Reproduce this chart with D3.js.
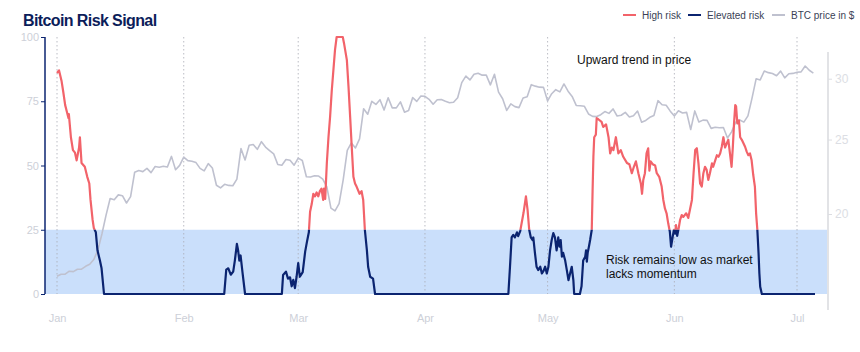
<!DOCTYPE html>
<html><head><meta charset="utf-8">
<script src="https://cdn.jsdelivr.net/npm/d3@7"></script>
<style>
body{margin:0;background:#fff;}
svg text{font-family:"Liberation Sans", Arial, sans-serif;}
</style>
</head><body>
<svg id="chart" width="860" height="352"></svg>
<script>
// ---------- DATA ----------
const startDate = "2023-01-01";
// BTC daily close (thousand $), Jan 1 .. Jul 5
const priceValues = [
16.6,16.7,16.7,16.85,16.83,16.95,16.95,17.1,17.2,17.45,17.95,18.85,19.93,20.95,20.87,21.18,21.13,20.67,21.07,22.67,22.78,22.71,22.93,22.64,23.06,23.01,23.08,23.03,23.77,22.84,23.14,
23.72,23.47,23.43,23.33,22.93,22.76,23.26,22.96,21.8,21.63,21.86,21.79,21.77,22.2,24.33,23.52,24.57,24.63,24.28,24.84,24.44,24.19,23.95,23.2,23.15,23.55,23.49,23.15,
23.65,23.48,22.36,22.35,22.43,22.41,22.2,21.7,20.36,20.19,20.63,22.16,24.2,24.75,24.38,25.05,27.42,26.97,28.04,27.77,28.17,27.31,28.33,27.49,27.49,27.99,27.14,27.27,28.35,28.03,28.48,
28.45,28.2,27.79,28.17,28.18,28.04,27.92,27.95,28.33,29.65,30.24,29.89,30.4,30.49,30.32,30.32,29.45,30.4,28.82,28.25,27.28,27.82,27.59,27.51,28.31,28.42,29.47,29.34,29.25,29.23,
28.07,28.68,29.03,28.84,29.53,28.9,28.45,27.69,27.66,27.62,26.99,26.8,26.78,26.93,27.19,27.04,27.4,26.83,26.89,27.12,26.75,26.85,27.23,26.33,26.47,26.72,26.87,28.09,27.75,27.7,27.22,
26.82,27.25,27.07,27.12,25.76,27.24,26.35,26.5,26.48,25.85,25.94,25.9,25.92,25.12,25.58,26.33,26.51,26.34,26.84,28.31,29.99,29.89,30.7,30.55,30.47,30.27,30.69,30.08,30.45,30.48,
30.59,30.62,31.16,30.77,30.51
];
// Risk signal: day offset from Jan 1 (fractional) and value 0-100
const riskDays = [
0,0.5,1.1,1.5,2,2.4,2.8,2.9,3.4,3.9,4.4,4.8,5.4,5.6,6,6.8,7.4,7.9,8.2,8.7,9,9.5,9.9,10.5,10.9,11.5,
40.9,41.4,41.9,42.5,43.1,43.5,44,44.3,44.6,44.9,45.4,46,
55,55.3,56,56.5,57,57.4,57.8,58.2,58.6,59,59.4,60.1,60.7,61.1,61.6,61.9,62.3,62.7,63.1,63.5,63.9,64.3,64.7,65.1,65.3,65.6,66,66.4,66.8,67.2,67.6,68,68.4,69.9,70.2,70.9,71.3,71.7,72.1,72.5,72.9,73.3,74,74.5,74.9,75.3,75.8,76.1,76.6,77.3,77.8,
110.4,110.8,111.2,111.6,112,112.5,112.8,113.3,113.7,114.1,114.7,115.1,115.5,115.9,116.3,116.5,116.9,117.3,117.7,118.2,118.6,119,119.4,119.8,120.2,120.6,121,121.4,121.8,122.2,122.6,122.9,123.2,123.5,123.8,124.3,124.7,125.1,125.5,125.9,126.3,126.5,
127.9,128.3,128.7,129.2,129.4,129.6,129.8,130.1,130.4,130.8,131,131.2,131.4,131.8,132,132.4,133.2,133.6,134.3,134.9,135.3,135.7,136.1,136.7,137.3,137.9,138.5,139.4,140,140.6,141.1,141.6,142.2,142.8,143.1,143.4,143.8,144.2,144.6,144.9,145.2,145.7,146.3,146.7,147.3,147.9,148.3,148.7,149.1,149.5,149.9,150.2,150.6,150.9,151.2,151.4,151.7,152.1,152.4,152.8,153.2,153.9,154.4,154.8,155.3,155.7,156.1,156.5,156.9,157.3,157.7,158.1,158.5,158.9,159.3,159.7,160.2,160.5,161,161.4,161.8,162.2,162.6,163,163.4,163.8,164.2,164.6,165,165.3,165.6,165.9,166.1,166.4,166.8,167.1,167.5,168.3,168.7,169.1,169.5,169.9,170.3,170.7,171,171.3,171.6,171.8,172,172.4,185.4
];
const riskValues = [
86,87,83,79,73.5,71,68.5,70,61,56,55,52,57,61,51,49.5,45.6,43,36.6,29,25.7,24,17,13,10,0,
0,9.5,10,7.5,8.7,13,19.5,17,13,15,8,0,
0,7.4,8.7,6,6.5,3,5.5,2.3,6.7,12,6.7,8.5,16.5,20,24,32,35,39,38,39.5,38,40,41,36.6,41,37,51,61,69,79,87,95,100,100,97.6,91,80.7,69,57,45.6,43,41.7,39,40,36.6,25,17,10.6,6.7,6,0,
0,10.6,22,23,22,24,22.5,24.5,28,31.5,38,32.7,25,22,21,22,16,10.6,9.3,10.6,8,9,10.6,8,10.6,17,21,23.7,22,17,22,18.4,21,14.5,16,13,9.3,5.4,8,10.6,5.4,0,
0,3,13,14.5,17,12.6,16,18.4,21,25,40,53.4,61,62,68.4,68,67,65,66,61,54.7,57,56,61,54.7,56,53.4,51,50.5,47,49.5,51.6,47,43,39,44.4,47,54.7,56.7,48,51.6,50.5,50,47,45.6,41.8,36.6,33.3,31.4,27.5,24.2,18.4,22.3,25,23.5,26.8,22.6,26,28.8,30.7,30,31.4,29.6,32.7,36.6,47,56,56.7,50.8,43,41.8,47,49.5,48.3,44.4,47,50.8,49.5,52,54,53.4,54.7,57.3,61,57,58.5,60,54.7,49.5,57,66.4,73.5,73,66.4,67.5,61,60,57.3,55.4,54,54.7,52,46.3,41.8,31.4,25,15.8,8,2.8,0,0
];
const riskTicks = [0, 25, 50, 75, 100];
const priceTicks = [20, 25, 30];
const riskThreshold = 25;
const legendLabels = ["High risk", "Elevated risk", "BTC price in $"];
const titleText = "Bitcoin Risk Signal";
const noteTop = "Upward trend in price";
const noteBottom = ["Risk remains low as market", "lacks momentum"];

// ---------- SETUP ----------
const colors = {red:"#f2636a", navy:"#0b2470", price:"#bfc1cf", band:"#cadffb", axisText:"#cdd0d8"};
const svg = d3.select("#chart");
const t0 = Date.UTC(2023,0,1);
const dayToDate = d => new Date(t0 + d*864e5);

const x = d3.scaleUtc().domain([new Date(Date.UTC(2023,0,1)), new Date(Date.UTC(2023,6,1))]).range([57, 797]);
const yR = d3.scaleLinear().domain([0,100]).range([294, 37]);
const yP = d3.scaleLog().domain([15, 32.5]).range([310, 52]);
const xLeft = 45, xRight = 828;

// band 0-25
svg.append("rect").attr("x", xLeft).attr("y", yR(riskThreshold))
  .attr("width", xRight - 1 - xLeft).attr("height", yR(0) - yR(riskThreshold))
  .attr("fill", colors.band);

// month gridlines
const months = d3.utcMonth.range(new Date(Date.UTC(2023,0,1)), new Date(Date.UTC(2023,6,2)));
svg.append("g").selectAll("line").data(months).join("line")
  .attr("x1", d => x(d)).attr("x2", d => x(d))
  .attr("y1", yR(100)).attr("y2", yR(0))
  .attr("stroke", "#a9abb5").attr("stroke-width", 0.8).attr("stroke-dasharray", "1.5,2.5");

// x axis labels
const xAxis = d3.axisBottom(x).tickValues(months).tickFormat(d3.utcFormat("%b")).tickSize(0).tickPadding(0);
const gx = svg.append("g").attr("transform", "translate(0,314)").call(xAxis);
gx.select(".domain").remove();
gx.selectAll("text").attr("fill", colors.axisText).attr("font-size", 11).attr("font-family", "Liberation Sans, Arial, sans-serif");

// left axis
const yAxisL = d3.axisLeft(yR).tickValues(riskTicks).tickSize(4).tickPadding(2);
const gl = svg.append("g").attr("transform", `translate(${xLeft},0)`).call(yAxisL);
gl.select(".domain").attr("stroke", colors.navy).attr("stroke-width", 1.5).attr("d", `M0,${yR(100)}V${yR(0)}`);
gl.selectAll(".tick line").attr("stroke", colors.navy);
gl.selectAll("text").attr("fill", colors.axisText).attr("font-size", 11).attr("font-family", "Liberation Sans, Arial, sans-serif");

// right axis
const yAxisR = d3.axisRight(yP).tickValues(priceTicks).tickFormat(d => d).tickSize(4).tickPadding(3);
const gr = svg.append("g").attr("transform", `translate(${xRight},0)`).call(yAxisR);
gr.select(".domain").attr("stroke", "#cfd0d6").attr("stroke-width", 1.2).attr("d", `M0,52V310`);
gr.selectAll(".tick line").attr("stroke", "#dcdde2");
gr.selectAll("text").attr("fill", "#dcdee4").attr("font-size", 12).attr("font-family", "Liberation Sans, Arial, sans-serif");

// price line
const priceData = priceValues.map((v,i) => ({date: dayToDate(i), v}));
svg.append("path").datum(priceData)
  .attr("fill","none").attr("stroke", colors.price).attr("stroke-width", 1.6).attr("stroke-linejoin","round")
  .attr("d", d3.line().x(d => x(d.date)).y(d => yP(d.v)));

// risk line with split colouring
const riskData = riskDays.map((d,i) => ({date: dayToDate(d), v: riskValues[i]}));
const defs = svg.append("defs");
defs.append("clipPath").attr("id","above").append("rect")
  .attr("x",0).attr("y",0).attr("width",860).attr("height", yR(riskThreshold));
defs.append("clipPath").attr("id","below").append("rect")
  .attr("x",0).attr("y",yR(riskThreshold)).attr("width",860).attr("height", 352 - yR(riskThreshold));
const riskLine = d3.line().x(d => x(d.date)).y(d => yR(d.v));
svg.append("path").datum(riskData).attr("clip-path","url(#above)")
  .attr("fill","none").attr("stroke", colors.red).attr("stroke-width", 2.2).attr("stroke-linejoin","round")
  .attr("d", riskLine);
svg.append("path").datum(riskData).attr("clip-path","url(#below)")
  .attr("fill","none").attr("stroke", colors.navy).attr("stroke-width", 2.2).attr("stroke-linejoin","round")
  .attr("d", riskLine);

// title
svg.append("text").attr("x", 23).attr("y", 26).text(titleText)
  .attr("font-family", "Inter, 'Noto Sans', sans-serif").attr("font-weight", 800)
  .attr("font-size", 16).attr("letter-spacing", -0.6).attr("fill", "#0c1d5a");

// legend
const legendItems = [
  {label: legendLabels[0], color: colors.red, x: 623},
  {label: legendLabels[1], color: colors.navy, x: 688},
  {label: legendLabels[2], color: colors.price, x: 772}
];
const lg = svg.append("g");
legendItems.forEach(it => {
  lg.append("line").attr("x1", it.x).attr("x2", it.x + 13).attr("y1", 15).attr("y2", 15)
    .attr("stroke", it.color).attr("stroke-width", 2);
  lg.append("text").attr("x", it.x + 19).attr("y", 19).text(it.label)
    .attr("font-size", 10).attr("fill", "#3a3f55");
});

// annotations
svg.append("text").attr("x", 577).attr("y", 64).text(noteTop).attr("font-size", 12).attr("fill", "#111");
svg.append("text").attr("x", 606).attr("y", 264).text(noteBottom[0]).attr("font-size", 12).attr("fill", "#111");
svg.append("text").attr("x", 606).attr("y", 278).text(noteBottom[1]).attr("font-size", 12).attr("fill", "#111");
</script>
</body></html>
